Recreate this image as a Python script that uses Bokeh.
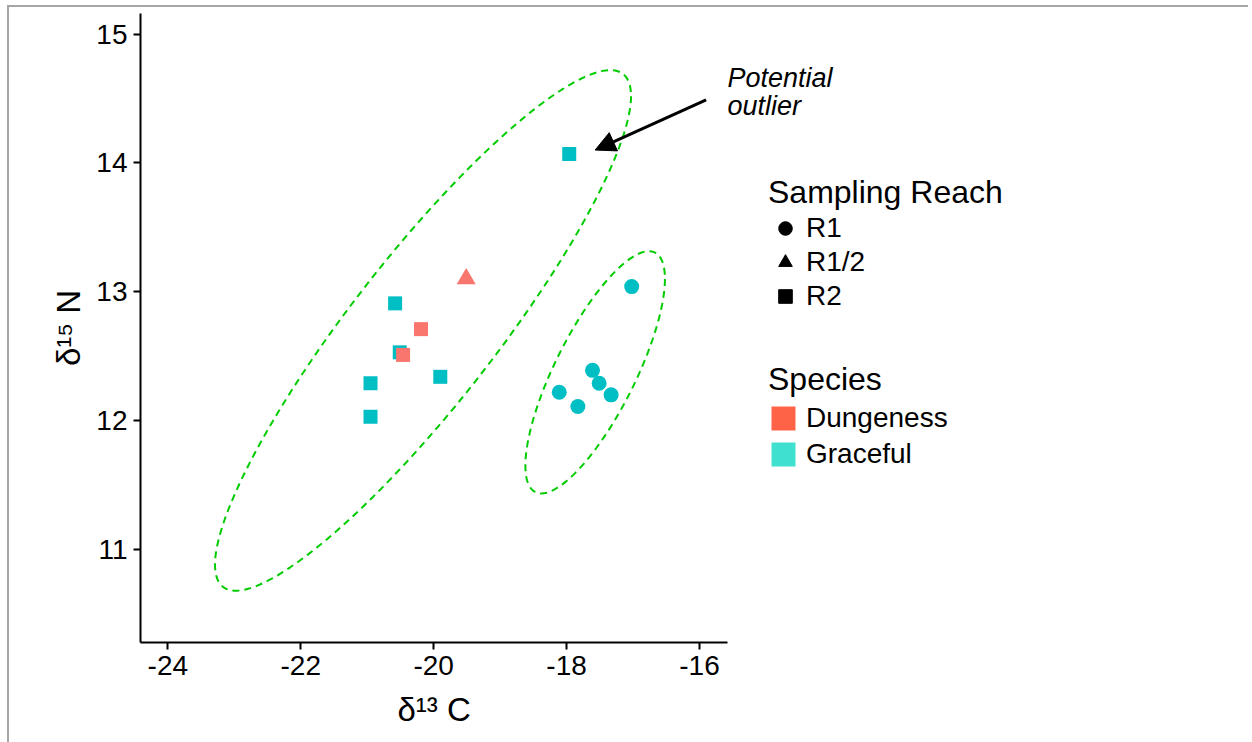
import numpy as np
from bokeh.plotting import figure
from bokeh.models import (Range1d, FixedTicker, Label, Arrow, NormalHead,
                          Legend, LegendItem, Title, InlineStyleSheet)
from bokeh.embed import file_html
from bokeh.resources import INLINE

# ---------------- data ----------------
# Sampling reach R1 (Graceful, circles)
r1_graceful_d13c = [-17.02, -17.61, -17.51, -18.11, -17.33, -17.83]
r1_graceful_d15n = [13.04, 12.39, 12.29, 12.22, 12.20, 12.11]
# Sampling reach R2 (squares)
r2_graceful_d13c = [-17.96, -20.58, -20.51, -19.90, -20.95, -20.95]
r2_graceful_d15n = [14.07, 12.91, 12.53, 12.34, 12.29, 12.03]
r2_dungeness_d13c = [-20.19, -20.46]
r2_dungeness_d15n = [12.71, 12.51]
# Sampling reach R1/2 (triangle)
r12_dungeness_d13c = [-19.51]
r12_dungeness_d15n = [13.10]

# ellipses: centre, half-extent in x and y, correlation
ell_big = dict(cx=-20.16, cy=12.70, sx=3.13, sy=2.02, rho=0.90)
ell_small = dict(cx=-17.57, cy=12.375, sx=1.05, sy=0.94, rho=0.77)

# potential outlier arrow (tail -> head)
arrow_tail = (-15.90, 14.49)
arrow_head = (-17.57, 14.10)

x_ticks = [-24, -22, -20, -18, -16]
x_tick_labels = ["-24", "-22", "-20", "-18", "-16"]
y_ticks = [11, 12, 13, 14, 15]
y_tick_labels = ["11", "12", "13", "14", "15"]

reach_labels = ["R1", "R1/2", "R2"]
species_labels = ["Dungeness", "Graceful"]

# ---------------- styles / layout ----------------
FONT = "Liberation Sans"
COL_D = "#F8766D"
COL_G = "#00BFC4"
KEY_D = "#FF6347"
KEY_G = "#40E0D0"
ELL_COL = "#00CC00"

W, H = 1248, 740
LEFT, TOP = 140, 13
FRAME_H = 629
XPX = 66.46          # px per unit of d13C
YPX = 128.85         # px per unit of d15N
X_START = -24.411
Y_START = 10.278
X_AXIS_END = -15.583
x_end = X_START + (W - LEFT) / XPX
y_end = Y_START + FRAME_H / YPX

def dx(px):
    return X_START + (px - LEFT) / XPX
def dy(py):
    return y_end - (py - TOP) / YPX

border_css = InlineStyleSheet(css="""
:host::after {
  content: "";
  position: absolute;
  left: 7px; top: 5px;
  width: 1239px; height: 735px;
  border-left: 2px solid #a6a6a6;
  border-top: 2px solid #a6a6a6;
  pointer-events: none;
  z-index: 100;
}
""")

p = figure(width=W, height=H, output_backend="svg", toolbar_location=None,
           x_range=Range1d(X_START, x_end), y_range=Range1d(Y_START, y_end),
           min_border_left=LEFT, min_border_right=0, min_border_top=TOP,
           min_border_bottom=H - TOP - FRAME_H, title_location=None,
           stylesheets=[border_css])
p.background_fill_color = "white"
p.border_fill_color = "white"
p.outline_line_color = None
p.xgrid.visible = False
p.ygrid.visible = False

for ax in (p.xaxis[0], p.yaxis[0]):
    ax.axis_line_width = 2
    ax.axis_line_color = "black"
    ax.major_tick_line_width = 2
    ax.major_tick_line_color = "black"
    ax.major_tick_out = 7
    ax.major_tick_in = 0
    ax.minor_tick_line_color = None
    ax.major_label_text_font = FONT
    ax.major_label_text_font_size = "28px"
    ax.major_label_text_color = "black"
    ax.major_label_standoff = 6
    ax.axis_label_text_font = FONT
    ax.axis_label_text_font_size = "33px"
    ax.axis_label_text_font_style = "normal"
    ax.axis_label_text_color = "black"
p.xaxis.bounds = (X_START, X_AXIS_END)
p.xaxis.ticker = FixedTicker(ticks=x_ticks)
p.yaxis.ticker = FixedTicker(ticks=y_ticks)
p.xaxis.major_label_overrides = dict(zip(x_ticks, x_tick_labels))
p.yaxis.major_label_overrides = dict(zip(y_ticks, y_tick_labels))
p.yaxis.axis_label = "δ¹⁵ N"
p.yaxis.axis_label_standoff = 6
# x-axis title as a title placed below the axis, left-aligned under the data area
p.add_layout(Title(text="δ¹³ C", align="left", offset=397 - LEFT, text_font=FONT,
                   text_font_size="33px", text_font_style="normal",
                   text_color="black", standoff=23), "below")

# ellipses
def ellipse_pts(e, n=240):
    t = np.linspace(0, 2 * np.pi, n)
    phi = np.arccos(e["rho"])
    return e["cx"] + e["sx"] * np.cos(t), e["cy"] + e["sy"] * np.cos(t + phi)

for e in (ell_big, ell_small):
    ex, ey = ellipse_pts(e)
    p.line(ex, ey, line_color=ELL_COL, line_width=2, line_dash="7 5")

# points
p.scatter(r1_graceful_d13c, r1_graceful_d15n, marker="circle", size=15,
          fill_color=COL_G, line_color=None)
p.scatter(r2_graceful_d13c, r2_graceful_d15n, marker="square", size=14,
          fill_color=COL_G, line_color=None)
p.scatter(r2_dungeness_d13c, r2_dungeness_d15n, marker="square", size=14,
          fill_color=COL_D, line_color=None)
p.scatter(r12_dungeness_d13c, r12_dungeness_d15n, marker="triangle", size=19,
          fill_color=COL_D, line_color=None)

# arrow + annotation
p.add_layout(Arrow(end=NormalHead(size=20, fill_color="black", line_color="black"),
                   x_start=arrow_tail[0], y_start=arrow_tail[1],
                   x_end=arrow_head[0], y_end=arrow_head[1],
                   line_width=3, line_color="black"))
for txt, py in (("Potential", 77), ("outlier", 105)):
    p.add_layout(Label(x=dx(727), y=dy(py), text=txt, text_font=FONT,
                       text_font_size="27px", text_font_style="italic",
                       text_color="black", text_baseline="alphabetic"))

# legend renderers (hidden copies of the data, used only for the keys)
reach_r = [
    p.scatter(r1_graceful_d13c, r1_graceful_d15n, marker="circle", fill_color="black",
              line_color="black", visible=False),
    p.scatter(r12_dungeness_d13c, r12_dungeness_d15n, marker="triangle", fill_color="black",
              line_color="black", visible=False),
    p.scatter(r2_graceful_d13c, r2_graceful_d15n, marker="square", fill_color="black",
              line_color="black", visible=False),
]
species_r = [
    p.vbar(x=r2_dungeness_d13c, top=r2_dungeness_d15n, width=0.1, fill_color=KEY_D,
           line_color=None, visible=False),
    p.vbar(x=r2_graceful_d13c, top=r2_graceful_d15n, width=0.1, fill_color=KEY_G,
           line_color=None, visible=False),
]

def make_legend(title, labels, rends, loc, glyph, spacing, standoff, tstand):
    lg = Legend(items=[LegendItem(label=l, renderers=[r]) for l, r in zip(labels, rends)],
                title=title, location=loc, orientation="vertical")
    lg.title_text_font = FONT
    lg.title_text_font_size = "32px"
    lg.title_text_font_style = "normal"
    lg.title_text_color = "black"
    lg.title_standoff = tstand
    lg.label_text_font = FONT
    lg.label_text_font_size = "28px"
    lg.label_text_color = "black"
    lg.glyph_width = glyph
    lg.glyph_height = glyph
    lg.label_height = glyph
    lg.label_standoff = standoff
    lg.spacing = spacing
    lg.padding = 0
    lg.margin = 0
    lg.border_line_color = None
    lg.background_fill_alpha = 0
    lg.inactive_fill_alpha = 0
    lg.click_policy = "none"
    return lg

p.add_layout(make_legend("Sampling Reach", reach_labels, reach_r, (628, 329), 34, 0, 4, 0))
p.add_layout(make_legend("Species", species_labels, species_r, (628, 172), 30, 4, 8, 4))

open("out.html", "w").write(file_html(p, INLINE))
